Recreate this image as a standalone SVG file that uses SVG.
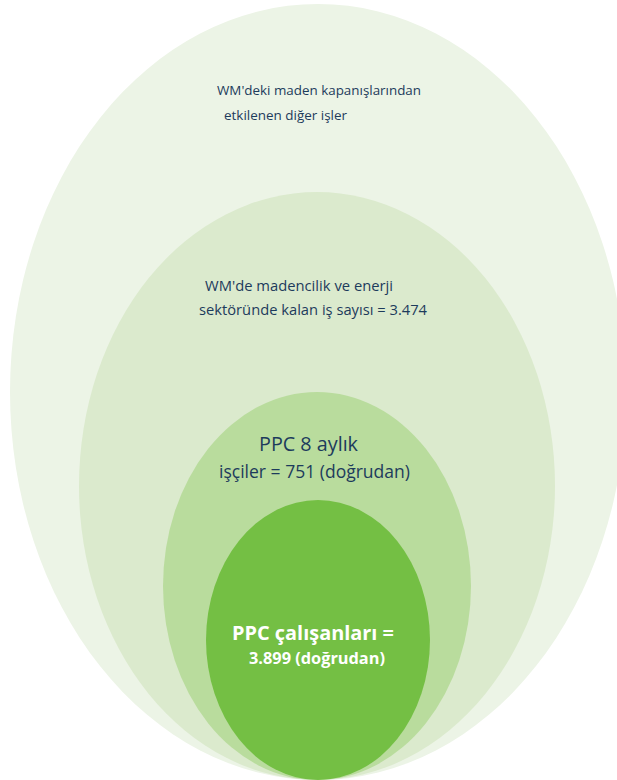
<svg xmlns="http://www.w3.org/2000/svg" width="617" height="780" viewBox="0 0 617 780">
<style>
.t{font-family:"Open Sans","Noto Sans","DejaVu Sans",sans-serif;fill:#1d3b5c}
.w{font-family:"Open Sans","Noto Sans","DejaVu Sans",sans-serif;fill:#ffffff;font-weight:bold}
</style>
<rect width="617" height="780" fill="#ffffff"/>
<g id="outer">
<ellipse cx="318" cy="392" rx="308" ry="388" fill="#ecf4e6"/>
<text class="t" x="217" y="95" font-size="13.3" textLength="204" lengthAdjust="spacingAndGlyphs">WM'deki maden kapanışlarından</text>
<text class="t" x="224" y="120" font-size="13.3" textLength="123" lengthAdjust="spacingAndGlyphs">etkilenen diğer işler</text>
</g>
<g id="mining">
<ellipse cx="317" cy="486" rx="238" ry="294" fill="#dbeacd"/>
<text class="t" x="205" y="291" font-size="14" textLength="188" lengthAdjust="spacingAndGlyphs">WM'de madencilik ve enerji</text>
<text class="t" x="199" y="315" font-size="14" textLength="228" lengthAdjust="spacingAndGlyphs">sektöründe kalan iş sayısı = 3.474</text>
</g>
<g id="ppc8">
<ellipse cx="317" cy="586" rx="154" ry="194" fill="#b9dc9d"/>
<text class="t" x="259" y="451" font-size="20" textLength="99" lengthAdjust="spacingAndGlyphs">PPC 8 aylık</text>
<text class="t" x="219" y="478" font-size="17.5" textLength="191" lengthAdjust="spacingAndGlyphs">işçiler = 751 (doğrudan)</text>
</g>
<g id="ppc">
<ellipse cx="318" cy="640" rx="112" ry="140" fill="#74bf44"/>
<text class="w" x="232" y="640" font-size="19.5" textLength="162" lengthAdjust="spacingAndGlyphs">PPC çalışanları =</text>
<text class="w" x="249" y="664" font-size="15.5" textLength="136" lengthAdjust="spacingAndGlyphs">3.899 (doğrudan)</text>
</g>
<g id="connectors"/>
</svg>
